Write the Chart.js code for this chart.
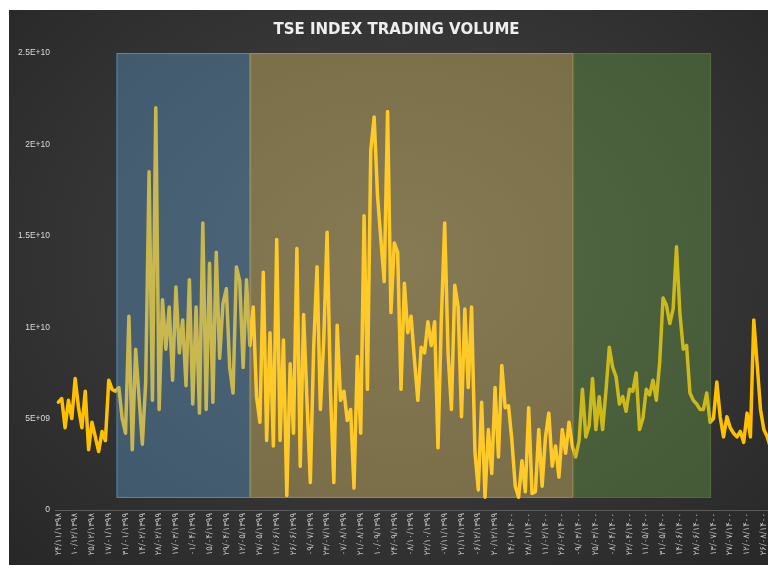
<!DOCTYPE html>
<html>
<head>
<meta charset="utf-8">
<script src="https://cdn.jsdelivr.net/npm/chart.js@4.4.0/dist/chart.umd.min.js"></script>
<style>
  html, body { margin: 0; padding: 0; background: #ffffff; overflow: hidden; }
  #wrap {
    position: absolute; left: 9px; top: 10px; width: 775px; height: 555px;
    background: radial-gradient(ellipse at 50% 45%, #464646 0%, #383838 45%, #272727 100%);
  }
</style>
</head>
<body>
<div id="wrap"><canvas id="tseChart"></canvas></div>
<script>
// chart title
const chartTitle = "TSE INDEX TRADING VOLUME";

// trading volume, in billions of shares (one value per sampled session)
const volumeBn = [
  5.9, 6.1, 4.5, 6.0, 5.0, 7.2, 5.6, 4.5, 6.5, 3.3,
  4.8, 4.0, 3.2, 4.3, 3.8, 7.1, 6.6, 6.5, 6.7, 5.0,
  4.2, 10.6, 3.3, 8.8, 6.2, 3.6, 7.0, 18.5, 6.0, 22.0,
  5.5, 11.5, 8.8, 11.1, 7.1, 12.2, 8.6, 10.4, 6.8, 12.6,
  5.8, 11.1, 5.3, 15.7, 5.5, 13.5, 5.9, 14.1, 8.3, 11.3,
  12.1, 7.8, 6.4, 13.3, 12.5, 7.8, 12.6, 9.0, 11.1, 6.2,
  4.8, 13.0, 3.8, 9.7, 3.5, 14.8, 3.8, 9.3, 0.8, 8.0,
  4.2, 14.3, 2.4, 10.7, 6.0, 1.5, 8.9, 13.3, 5.5, 9.3,
  15.2, 6.5, 1.5, 10.1, 6.0, 6.5, 4.9, 5.5, 1.2, 8.4,
  4.2, 16.1, 6.6, 19.7, 21.5, 17.2, 14.8, 12.5, 21.8, 10.8,
  14.6, 14.1, 6.6, 12.4, 9.7, 10.6, 8.2, 6.0, 8.9, 8.6,
  10.3, 9.0, 10.3, 3.4, 10.4, 15.7, 8.6, 5.5, 12.3, 11.1,
  5.1, 11.0, 6.7, 11.1, 3.2, 1.1, 5.9, 0.7, 4.4, 2.0,
  6.7, 2.9, 7.9, 5.6, 5.7, 3.8, 1.3, 0.7, 2.7, 1.0,
  5.6, 0.9, 1.0, 4.4, 1.3, 4.0, 5.3, 2.4, 3.5, 1.8,
  4.4, 3.1, 4.8, 3.5, 2.9, 3.8, 6.6, 4.0, 4.6, 7.2,
  4.4, 6.2, 4.4, 6.5, 8.9, 7.8, 7.3, 5.8, 6.2, 5.4,
  6.6, 6.5, 7.5, 4.4, 5.0, 6.6, 6.3, 7.1, 6.0, 8.1,
  11.6, 11.2, 10.2, 11.0, 14.4, 10.8, 8.8, 9.0, 6.4, 6.0,
  5.8, 5.5, 5.5, 6.4, 4.8, 5.0, 7.0, 5.1, 4.0, 5.1,
  4.5, 4.2, 4.0, 4.3, 3.7, 5.3, 4.0, 10.4, 8.0, 5.5,
  4.4, 4.0, 3.4
];

// one date label every 5 sampled sessions
const labelEvery = 5;
const xLabels = [
  "۲۴/۱۱/۱۳۹۸", "۱۰/۱۲/۱۳۹۸", "۲۵/۱۲/۱۳۹۸", "۱۷/۰۱/۱۳۹۹", "۳۱/۰۱/۱۳۹۹",
  "۱۴/۰۲/۱۳۹۹", "۲۸/۰۲/۱۳۹۹", "۱۷/۰۳/۱۳۹۹", "۰۱/۰۴/۱۳۹۹", "۱۵/۰۴/۱۳۹۹",
  "۲۹/۰۴/۱۳۹۹", "۱۲/۰۵/۱۳۹۹", "۲۷/۰۵/۱۳۹۹", "۱۲/۰۶/۱۳۹۹", "۲۶/۰۶/۱۳۹۹",
  "۰۹/۰۷/۱۳۹۹", "۲۳/۰۷/۱۳۹۹", "۰۷/۰۸/۱۳۹۹", "۲۱/۰۸/۱۳۹۹", "۱۰/۰۹/۱۳۹۹",
  "۲۴/۰۹/۱۳۹۹", "۰۸/۱۰/۱۳۹۹", "۲۲/۱۰/۱۳۹۹", "۰۷/۱۱/۱۳۹۹", "۲۱/۱۱/۱۳۹۹",
  "۰۶/۱۲/۱۳۹۹", "۲۰/۱۲/۱۳۹۹", "۱۴/۰۱/۱۴۰۰", "۲۸/۰۱/۱۴۰۰", "۱۱/۰۲/۱۴۰۰",
  "۲۶/۰۲/۱۴۰۰", "۰۹/۰۳/۱۴۰۰", "۲۵/۰۳/۱۴۰۰", "۰۸/۰۴/۱۴۰۰", "۲۲/۰۴/۱۴۰۰",
  "۱۱/۰۵/۱۴۰۰", "۳۱/۰۵/۱۴۰۰", "۱۴/۰۶/۱۴۰۰", "۲۸/۰۶/۱۴۰۰", "۱۳/۰۷/۱۴۰۰",
  "۲۷/۰۷/۱۴۰۰", "۱۲/۰۸/۱۴۰۰", "۲۶/۰۸/۱۴۰۰"
];

// y axis tick labels (0 .. 2.5E+10, step 5E+09)
const yTickLabels = ["0", "5E+09", "1E+10", "1.5E+10", "2E+10", "2.5E+10"];

// shaded periods, in session index units
const regionStart = [17.3, 57.1, 153.3];
const regionEnd = [57.1, 153.3, 194.3];
const regionLow = 0.66e9;
const regionHigh = 2.5e10;
const regionFill = ["rgba(100,170,225,0.35)", "rgba(255,220,115,0.35)", "rgba(112,173,71,0.35)"];
const regionEdge = ["rgba(110,170,225,0.55)", "rgba(255,220,115,0.25)", "rgba(112,173,71,0.25)"];

// draw the shaded periods over the line
const regionPlugin = {
  id: "regions",
  afterDatasetsDraw(chart) {
    const ctx = chart.ctx;
    const xs = chart.scales.x;
    const ys = chart.scales.y;
    ctx.save();
    for (let i = 0; i < regionStart.length; i++) {
      const left = xs.getPixelForValue(regionStart[i]);
      const right = xs.getPixelForValue(regionEnd[i]);
      const top = ys.getPixelForValue(regionHigh);
      const bottom = ys.getPixelForValue(regionLow);
      ctx.fillStyle = regionFill[i];
      ctx.fillRect(left, top, right - left, bottom - top);
      ctx.strokeStyle = regionEdge[i];
      ctx.lineWidth = 1;
      ctx.strokeRect(left + 0.5, top + 0.5, right - left - 1, bottom - top - 1);
    }
    ctx.restore();
  },
};

const ctx = document.getElementById("tseChart").getContext("2d");
const tseChart = new Chart(ctx, {
  type: "line",
  data: {
    datasets: [
      {
        label: "Volume",
        data: volumeBn.map((v, i) => ({ x: i, y: v * 1e9 })),
        borderColor: "#FFC000",
        borderWidth: 3.5,
        borderJoinStyle: "round",
        borderCapStyle: "round",
        pointRadius: 0,
        tension: 0,
        fill: false,
      },
    ],
  },
  options: {
    responsive: true,
    maintainAspectRatio: false,
    animation: false,
    layout: { padding: 0 },
    plugins: {
      legend: { display: false },
      tooltip: { enabled: false },
      title: {
        display: true,
        text: chartTitle,
        color: "#eeeeee",
        font: { family: "DejaVu Sans", size: 15, weight: "bold" },
        padding: { top: 11, bottom: 14 },
      },
    },
    scales: {
      x: {
        type: "linear",
        min: -1,
        max: 216,
        grid: { display: false, drawTicks: false },
        border: { display: true, color: "#5a5a5a" },
        ticks: {
          stepSize: labelEvery,
          includeBounds: false,
          autoSkip: false,
          minRotation: 90,
          maxRotation: 90,
          padding: 3,
          color: "#c0c0c0",
          font: { family: "DejaVu Sans", size: 8.5 },
          callback: (value) => {
            if (value % labelEvery !== 0) return "";
            return xLabels[value / labelEvery] || "";
          },
        },
        afterBuildTicks: (scale) => {
          scale.ticks = scale.ticks.filter((t) => t.value / labelEvery < xLabels.length);
        },
        afterFit: (scale) => {
          scale.height = 55;
        },
      },
      y: {
        min: 0,
        max: 2.5e10,
        grid: { display: false, drawTicks: false },
        border: { display: false },
        ticks: {
          stepSize: 5e9,
          padding: 5,
          color: "#d9d9d9",
          font: { family: "Liberation Sans", size: 8.5 },
          callback: (value, index) => yTickLabels[index],
        },
        afterFit: (scale) => {
          scale.width = 46;
        },
      },
    },
  },
  plugins: [regionPlugin],
});
</script>
</body>
</html>
